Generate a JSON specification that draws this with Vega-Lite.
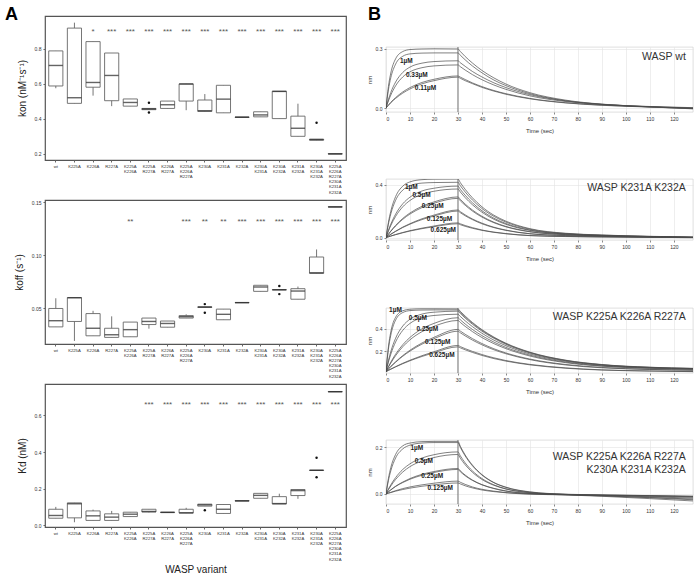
{
"$schema":"https://vega.github.io/schema/vega-lite/v6.json",
"background":"white",
"padding":{"left":4,"top":5,"right":0,"bottom":0},
"config":{"font":"Liberation Sans","view":{"stroke":null},"axis":{"labelFont":"Liberation Sans","titleFont":"Liberation Sans","titleFontWeight":"normal"}},
"datasets":{
"kon":[
{"variant":"wt","lo":0.574,"q1":0.587,"med":0.704,"q3":0.787,"hi":0.787},
{"variant":"K225A","lo":0.488,"q1":0.488,"med":0.52,"q3":0.917,"hi":0.948},
{"variant":"K226A","lo":0.532,"q1":0.58,"med":0.607,"q3":0.84,"hi":0.84,"sig":"*"},
{"variant":"R227A","lo":0.472,"q1":0.503,"med":0.647,"q3":0.775,"hi":0.775,"sig":"***"},
{"variant":"K225A K226A","lo":0.472,"q1":0.472,"med":0.493,"q3":0.513,"hi":0.513,"sig":"***"},
{"variant":"K225A R227A","lo":0.452,"q1":0.452,"med":0.456,"q3":0.459,"hi":0.459,"sig":"***"},
{"variant":"K226A R227A","lo":0.459,"q1":0.459,"med":0.48,"q3":0.501,"hi":0.501,"sig":"***"},
{"variant":"K225A K226A R227A","lo":0.449,"q1":0.501,"med":0.598,"q3":0.599,"hi":0.599,"sig":"***"},
{"variant":"K230A","lo":0.442,"q1":0.442,"med":0.446,"q3":0.507,"hi":0.541,"sig":"***"},
{"variant":"K231A","lo":0.434,"q1":0.434,"med":0.512,"q3":0.591,"hi":0.591,"sig":"***"},
{"variant":"K232A","lo":0.408,"q1":0.408,"med":0.409,"q3":0.41,"hi":0.41,"sig":"***"},
{"variant":"K230A K231A","lo":0.411,"q1":0.411,"med":0.422,"q3":0.44,"hi":0.44,"sig":"***"},
{"variant":"K230A K232A","lo":0.401,"q1":0.401,"med":0.556,"q3":0.557,"hi":0.557,"sig":"***"},
{"variant":"K231A K232A","lo":0.3,"q1":0.3,"med":0.346,"q3":0.415,"hi":0.486,"sig":"***"},
{"variant":"K230A K231A K232A","lo":0.278,"q1":0.278,"med":0.281,"q3":0.284,"hi":0.284,"sig":"***"},
{"variant":"K225A K226A R227A K230A K231A K232A","lo":0.199,"q1":0.199,"med":0.2,"q3":0.201,"hi":0.201,"sig":"***"}
],
"kon_out":[
{"variant":"K225A R227A","v":0.491},{"variant":"K225A R227A","v":0.436},{"variant":"K230A K231A K232A","v":0.377}
],
"koff":[
{"variant":"wt","lo":0.0327,"q1":0.0327,"med":0.0385,"q3":0.05,"hi":0.0596},
{"variant":"K225A","lo":0.0195,"q1":0.0378,"med":0.06,"q3":0.0603,"hi":0.0603},
{"variant":"K226A","lo":0.0243,"q1":0.0243,"med":0.0314,"q3":0.0452,"hi":0.0478},
{"variant":"R227A","lo":0.0228,"q1":0.0228,"med":0.0253,"q3":0.0314,"hi":0.0426},
{"variant":"K225A K226A","lo":0.0234,"q1":0.0234,"med":0.0301,"q3":0.0372,"hi":0.0372,"sig":"**"},
{"variant":"K225A R227A","lo":0.031,"q1":0.0349,"med":0.0378,"q3":0.041,"hi":0.041},
{"variant":"K226A R227A","lo":0.0324,"q1":0.0324,"med":0.0359,"q3":0.0382,"hi":0.0382},
{"variant":"K225A K226A R227A","lo":0.041,"q1":0.041,"med":0.0423,"q3":0.0433,"hi":0.0445,"sig":"***"},
{"variant":"K230A","lo":0.0511,"q1":0.0511,"med":0.0513,"q3":0.0515,"hi":0.0515,"sig":"**"},
{"variant":"K231A","lo":0.0394,"q1":0.0394,"med":0.0445,"q3":0.0494,"hi":0.0494,"sig":"**"},
{"variant":"K232A","lo":0.0554,"q1":0.0554,"med":0.0555,"q3":0.0556,"hi":0.0556,"sig":"***"},
{"variant":"K230A K231A","lo":0.0661,"q1":0.0661,"med":0.0702,"q3":0.0718,"hi":0.0718,"sig":"***"},
{"variant":"K230A K232A","lo":0.0675,"q1":0.0675,"med":0.0676,"q3":0.0677,"hi":0.0677,"sig":"***"},
{"variant":"K231A K232A","lo":0.0587,"q1":0.0587,"med":0.0664,"q3":0.0686,"hi":0.0706,"sig":"***"},
{"variant":"K230A K231A K232A","lo":0.083,"q1":0.083,"med":0.0836,"q3":0.0984,"hi":0.1055,"sig":"***"},
{"variant":"K225A K226A R227A K230A K231A K232A","lo":0.1454,"q1":0.1454,"med":0.1455,"q3":0.1456,"hi":0.1456,"sig":"***"}
],
"koff_out":[
{"variant":"K230A","v":0.0541},{"variant":"K230A","v":0.0459},{"variant":"K230A K232A","v":0.0712},{"variant":"K230A K232A","v":0.0635}
],
"kd":[
{"variant":"wt","lo":0.038,"q1":0.038,"med":0.053,"q3":0.087,"hi":0.1},
{"variant":"K225A","lo":0.016,"q1":0.04,"med":0.117,"q3":0.122,"hi":0.122},
{"variant":"K226A","lo":0.026,"q1":0.026,"med":0.051,"q3":0.078,"hi":0.085},
{"variant":"R227A","lo":0.026,"q1":0.026,"med":0.044,"q3":0.062,"hi":0.078},
{"variant":"K225A K226A","lo":0.047,"q1":0.047,"med":0.06,"q3":0.071,"hi":0.071},
{"variant":"K225A R227A","lo":0.07,"q1":0.072,"med":0.075,"q3":0.087,"hi":0.087,"sig":"***"},
{"variant":"K226A R227A","lo":0.069,"q1":0.069,"med":0.07,"q3":0.071,"hi":0.071,"sig":"***"},
{"variant":"K225A K226A R227A","lo":0.066,"q1":0.066,"med":0.068,"q3":0.087,"hi":0.095,"sig":"***"},
{"variant":"K230A","lo":0.104,"q1":0.104,"med":0.111,"q3":0.115,"hi":0.115,"sig":"***"},
{"variant":"K231A","lo":0.064,"q1":0.064,"med":0.087,"q3":0.113,"hi":0.113,"sig":"***"},
{"variant":"K232A","lo":0.132,"q1":0.132,"med":0.133,"q3":0.134,"hi":0.134,"sig":"***"},
{"variant":"K230A K231A","lo":0.147,"q1":0.147,"med":0.163,"q3":0.174,"hi":0.174,"sig":"***"},
{"variant":"K230A K232A","lo":0.116,"q1":0.116,"med":0.118,"q3":0.156,"hi":0.172,"sig":"***"},
{"variant":"K231A K232A","lo":0.144,"q1":0.162,"med":0.189,"q3":0.195,"hi":0.195,"sig":"***"},
{"variant":"K230A K231A K232A","lo":0.299,"q1":0.299,"med":0.3,"q3":0.301,"hi":0.301,"sig":"***"},
{"variant":"K225A K226A R227A K230A K231A K232A","lo":0.729,"q1":0.729,"med":0.73,"q3":0.731,"hi":0.731,"sig":"***"}
],
"kd_out":[
{"variant":"K230A","v":0.082},{"variant":"K230A K231A K232A","v":0.369},{"variant":"K230A K231A K232A","v":0.262}
],
"conc":[
{"p":1,"t":5.8,"v":0.24,"lab":"1µM"},{"p":1,"t":8.3,"v":0.17,"lab":"0.33µM"},{"p":1,"t":12,"v":0.1,"lab":"0.11µM"},
{"p":2,"t":7.9,"v":0.385,"lab":"1µM"},{"p":2,"t":11,"v":0.32,"lab":"0.5µM"},{"p":2,"t":14.9,"v":0.243,"lab":"0.25µM"},{"p":2,"t":17,"v":0.141,"lab":"0.125µM"},{"p":2,"t":18.6,"v":0.056,"lab":"0.625µM"},
{"p":3,"t":1.3,"v":0.564,"lab":"1µM"},{"p":3,"t":9.5,"v":0.49,"lab":"0.5µM"},{"p":3,"t":12.7,"v":0.4,"lab":"0.25µM"},{"p":3,"t":16.3,"v":0.284,"lab":"0.125µM"},{"p":3,"t":18,"v":0.17,"lab":"0.625µM"},
{"p":4,"t":10.2,"v":0.196,"lab":"1µM"},{"p":4,"t":12,"v":0.139,"lab":"0.5µM"},{"p":4,"t":14.7,"v":0.077,"lab":"0.25µM"},{"p":4,"t":17.3,"v":0.024,"lab":"0.125µM"}
],
"sens":[
{"p":1,"s":"a","t":0,"v":0},{"p":1,"s":"a","t":1,"v":0.109},{"p":1,"s":"a","t":2,"v":0.178},{"p":1,"s":"a","t":4,"v":0.25},{"p":1,"s":"a","t":7,"v":0.287},{"p":1,"s":"a","t":10,"v":0.297},{"p":1,"s":"a","t":15,"v":0.3},{"p":1,"s":"a","t":20,"v":0.301},{"p":1,"s":"a","t":30,"v":0.3},{"p":1,"s":"a","t":31,"v":0.287},{"p":1,"s":"a","t":33,"v":0.262},{"p":1,"s":"a","t":36,"v":0.229},{"p":1,"s":"a","t":40,"v":0.191},{"p":1,"s":"a","t":45,"v":0.153},{"p":1,"s":"a","t":50,"v":0.122},{"p":1,"s":"a","t":60,"v":0.078},{"p":1,"s":"a","t":75,"v":0.04},{"p":1,"s":"a","t":90,"v":0.02},{"p":1,"s":"a","t":110,"v":0.006},{"p":1,"s":"a","t":128,"v":-0.002},
{"p":1,"s":"b","t":0,"v":0},{"p":1,"s":"b","t":1,"v":0.092},{"p":1,"s":"b","t":2,"v":0.154},{"p":1,"s":"b","t":4,"v":0.223},{"p":1,"s":"b","t":7,"v":0.263},{"p":1,"s":"b","t":10,"v":0.275},{"p":1,"s":"b","t":15,"v":0.279},{"p":1,"s":"b","t":20,"v":0.28},{"p":1,"s":"b","t":30,"v":0.28},{"p":1,"s":"b","t":31,"v":0.268},{"p":1,"s":"b","t":33,"v":0.245},{"p":1,"s":"b","t":36,"v":0.214},{"p":1,"s":"b","t":40,"v":0.179},{"p":1,"s":"b","t":45,"v":0.142},{"p":1,"s":"b","t":50,"v":0.114},{"p":1,"s":"b","t":60,"v":0.073},{"p":1,"s":"b","t":75,"v":0.037},{"p":1,"s":"b","t":90,"v":0.019},{"p":1,"s":"b","t":110,"v":0.007},{"p":1,"s":"b","t":128,"v":-0.001},
{"p":1,"s":"c","t":0,"v":0},{"p":1,"s":"c","t":1,"v":0.043},{"p":1,"s":"c","t":2,"v":0.079},{"p":1,"s":"c","t":4,"v":0.132},{"p":1,"s":"c","t":7,"v":0.181},{"p":1,"s":"c","t":10,"v":0.208},{"p":1,"s":"c","t":15,"v":0.228},{"p":1,"s":"c","t":20,"v":0.236},{"p":1,"s":"c","t":30,"v":0.24},{"p":1,"s":"c","t":31,"v":0.23},{"p":1,"s":"c","t":33,"v":0.212},{"p":1,"s":"c","t":36,"v":0.186},{"p":1,"s":"c","t":40,"v":0.158},{"p":1,"s":"c","t":45,"v":0.128},{"p":1,"s":"c","t":50,"v":0.104},{"p":1,"s":"c","t":60,"v":0.068},{"p":1,"s":"c","t":75,"v":0.036},{"p":1,"s":"c","t":90,"v":0.019},{"p":1,"s":"c","t":110,"v":0.008},{"p":1,"s":"c","t":128,"v":0.002},
{"p":1,"s":"d","t":0,"v":0},{"p":1,"s":"d","t":1,"v":0.036},{"p":1,"s":"d","t":2,"v":0.066},{"p":1,"s":"d","t":4,"v":0.113},{"p":1,"s":"d","t":7,"v":0.158},{"p":1,"s":"d","t":10,"v":0.184},{"p":1,"s":"d","t":15,"v":0.205},{"p":1,"s":"d","t":20,"v":0.214},{"p":1,"s":"d","t":30,"v":0.219},{"p":1,"s":"d","t":31,"v":0.21},{"p":1,"s":"d","t":33,"v":0.193},{"p":1,"s":"d","t":36,"v":0.17},{"p":1,"s":"d","t":40,"v":0.144},{"p":1,"s":"d","t":45,"v":0.117},{"p":1,"s":"d","t":50,"v":0.095},{"p":1,"s":"d","t":60,"v":0.062},{"p":1,"s":"d","t":75,"v":0.033},{"p":1,"s":"d","t":90,"v":0.018},{"p":1,"s":"d","t":110,"v":0.006},{"p":1,"s":"d","t":128,"v":-0.004},
{"p":1,"s":"e","t":0,"v":0},{"p":1,"s":"e","t":1,"v":0.015},{"p":1,"s":"e","t":2,"v":0.029},{"p":1,"s":"e","t":4,"v":0.053},{"p":1,"s":"e","t":7,"v":0.082},{"p":1,"s":"e","t":10,"v":0.104},{"p":1,"s":"e","t":15,"v":0.13},{"p":1,"s":"e","t":20,"v":0.146},{"p":1,"s":"e","t":30,"v":0.163},{"p":1,"s":"e","t":31,"v":0.157},{"p":1,"s":"e","t":33,"v":0.145},{"p":1,"s":"e","t":36,"v":0.128},{"p":1,"s":"e","t":40,"v":0.109},{"p":1,"s":"e","t":45,"v":0.089},{"p":1,"s":"e","t":50,"v":0.073},{"p":1,"s":"e","t":60,"v":0.049},{"p":1,"s":"e","t":75,"v":0.027},{"p":1,"s":"e","t":90,"v":0.015},{"p":1,"s":"e","t":110,"v":0.006},{"p":1,"s":"e","t":128,"v":0.001},
{"p":1,"s":"f","t":0,"v":0},{"p":1,"s":"f","t":1,"v":0.014},{"p":1,"s":"f","t":2,"v":0.027},{"p":1,"s":"f","t":4,"v":0.049},{"p":1,"s":"f","t":7,"v":0.076},{"p":1,"s":"f","t":10,"v":0.097},{"p":1,"s":"f","t":15,"v":0.123},{"p":1,"s":"f","t":20,"v":0.139},{"p":1,"s":"f","t":30,"v":0.157},{"p":1,"s":"f","t":31,"v":0.151},{"p":1,"s":"f","t":33,"v":0.139},{"p":1,"s":"f","t":36,"v":0.124},{"p":1,"s":"f","t":40,"v":0.105},{"p":1,"s":"f","t":45,"v":0.086},{"p":1,"s":"f","t":50,"v":0.07},{"p":1,"s":"f","t":60,"v":0.047},{"p":1,"s":"f","t":75,"v":0.026},{"p":1,"s":"f","t":90,"v":0.014},{"p":1,"s":"f","t":110,"v":0.005},{"p":1,"s":"f","t":128,"v":-0.003},
{"p":2,"s":"a","t":0,"v":0},{"p":2,"s":"a","t":1,"v":0.115},{"p":2,"s":"a","t":2,"v":0.201},{"p":2,"s":"a","t":4,"v":0.311},{"p":2,"s":"a","t":7,"v":0.391},{"p":2,"s":"a","t":10,"v":0.423},{"p":2,"s":"a","t":15,"v":0.44},{"p":2,"s":"a","t":20,"v":0.444},{"p":2,"s":"a","t":30,"v":0.445},{"p":2,"s":"a","t":31,"v":0.417},{"p":2,"s":"a","t":33,"v":0.367},{"p":2,"s":"a","t":36,"v":0.303},{"p":2,"s":"a","t":40,"v":0.234},{"p":2,"s":"a","t":45,"v":0.17},{"p":2,"s":"a","t":50,"v":0.125},{"p":2,"s":"a","t":60,"v":0.068},{"p":2,"s":"a","t":75,"v":0.033},{"p":2,"s":"a","t":90,"v":0.02},{"p":2,"s":"a","t":110,"v":0.01},{"p":2,"s":"a","t":128,"v":0.004},
{"p":2,"s":"b","t":0,"v":0},{"p":2,"s":"b","t":1,"v":0.102},{"p":2,"s":"b","t":2,"v":0.18},{"p":2,"s":"b","t":4,"v":0.283},{"p":2,"s":"b","t":7,"v":0.361},{"p":2,"s":"b","t":10,"v":0.394},{"p":2,"s":"b","t":15,"v":0.414},{"p":2,"s":"b","t":20,"v":0.418},{"p":2,"s":"b","t":30,"v":0.42},{"p":2,"s":"b","t":31,"v":0.394},{"p":2,"s":"b","t":33,"v":0.347},{"p":2,"s":"b","t":36,"v":0.286},{"p":2,"s":"b","t":40,"v":0.221},{"p":2,"s":"b","t":45,"v":0.161},{"p":2,"s":"b","t":50,"v":0.118},{"p":2,"s":"b","t":60,"v":0.064},{"p":2,"s":"b","t":75,"v":0.031},{"p":2,"s":"b","t":90,"v":0.019},{"p":2,"s":"b","t":110,"v":0.009},{"p":2,"s":"b","t":128,"v":0.003},
{"p":2,"s":"c","t":0,"v":0},{"p":2,"s":"c","t":1,"v":0.055},{"p":2,"s":"c","t":2,"v":0.102},{"p":2,"s":"c","t":4,"v":0.178},{"p":2,"s":"c","t":7,"v":0.257},{"p":2,"s":"c","t":10,"v":0.307},{"p":2,"s":"c","t":15,"v":0.354},{"p":2,"s":"c","t":20,"v":0.375},{"p":2,"s":"c","t":30,"v":0.391},{"p":2,"s":"c","t":31,"v":0.366},{"p":2,"s":"c","t":33,"v":0.322},{"p":2,"s":"c","t":36,"v":0.265},{"p":2,"s":"c","t":40,"v":0.204},{"p":2,"s":"c","t":45,"v":0.147},{"p":2,"s":"c","t":50,"v":0.107},{"p":2,"s":"c","t":60,"v":0.058},{"p":2,"s":"c","t":75,"v":0.028},{"p":2,"s":"c","t":90,"v":0.017},{"p":2,"s":"c","t":110,"v":0.008},{"p":2,"s":"c","t":128,"v":0.003},
{"p":2,"s":"d","t":0,"v":0},{"p":2,"s":"d","t":1,"v":0.049},{"p":2,"s":"d","t":2,"v":0.092},{"p":2,"s":"d","t":4,"v":0.161},{"p":2,"s":"d","t":7,"v":0.234},{"p":2,"s":"d","t":10,"v":0.282},{"p":2,"s":"d","t":15,"v":0.329},{"p":2,"s":"d","t":20,"v":0.352},{"p":2,"s":"d","t":30,"v":0.369},{"p":2,"s":"d","t":31,"v":0.346},{"p":2,"s":"d","t":33,"v":0.304},{"p":2,"s":"d","t":36,"v":0.25},{"p":2,"s":"d","t":40,"v":0.193},{"p":2,"s":"d","t":45,"v":0.139},{"p":2,"s":"d","t":50,"v":0.101},{"p":2,"s":"d","t":60,"v":0.055},{"p":2,"s":"d","t":75,"v":0.027},{"p":2,"s":"d","t":90,"v":0.016},{"p":2,"s":"d","t":110,"v":0.008},{"p":2,"s":"d","t":128,"v":0.002},
{"p":2,"s":"e","t":0,"v":0},{"p":2,"s":"e","t":1,"v":0.026},{"p":2,"s":"e","t":2,"v":0.05},{"p":2,"s":"e","t":4,"v":0.093},{"p":2,"s":"e","t":7,"v":0.146},{"p":2,"s":"e","t":10,"v":0.187},{"p":2,"s":"e","t":15,"v":0.238},{"p":2,"s":"e","t":20,"v":0.271},{"p":2,"s":"e","t":30,"v":0.309},{"p":2,"s":"e","t":31,"v":0.29},{"p":2,"s":"e","t":33,"v":0.255},{"p":2,"s":"e","t":36,"v":0.21},{"p":2,"s":"e","t":40,"v":0.162},{"p":2,"s":"e","t":45,"v":0.117},{"p":2,"s":"e","t":50,"v":0.085},{"p":2,"s":"e","t":60,"v":0.046},{"p":2,"s":"e","t":75,"v":0.023},{"p":2,"s":"e","t":90,"v":0.014},{"p":2,"s":"e","t":110,"v":0.007},{"p":2,"s":"e","t":128,"v":0.002},
{"p":2,"s":"f","t":0,"v":0},{"p":2,"s":"f","t":1,"v":0.025},{"p":2,"s":"f","t":2,"v":0.048},{"p":2,"s":"f","t":4,"v":0.088},{"p":2,"s":"f","t":7,"v":0.139},{"p":2,"s":"f","t":10,"v":0.179},{"p":2,"s":"f","t":15,"v":0.228},{"p":2,"s":"f","t":20,"v":0.261},{"p":2,"s":"f","t":30,"v":0.298},{"p":2,"s":"f","t":31,"v":0.279},{"p":2,"s":"f","t":33,"v":0.246},{"p":2,"s":"f","t":36,"v":0.202},{"p":2,"s":"f","t":40,"v":0.156},{"p":2,"s":"f","t":45,"v":0.113},{"p":2,"s":"f","t":50,"v":0.082},{"p":2,"s":"f","t":60,"v":0.044},{"p":2,"s":"f","t":75,"v":0.022},{"p":2,"s":"f","t":90,"v":0.013},{"p":2,"s":"f","t":110,"v":0.006},{"p":2,"s":"f","t":128,"v":0.002},
{"p":2,"s":"g","t":0,"v":0},{"p":2,"s":"g","t":1,"v":0.013},{"p":2,"s":"g","t":2,"v":0.026},{"p":2,"s":"g","t":4,"v":0.049},{"p":2,"s":"g","t":7,"v":0.08},{"p":2,"s":"g","t":10,"v":0.106},{"p":2,"s":"g","t":15,"v":0.143},{"p":2,"s":"g","t":20,"v":0.171},{"p":2,"s":"g","t":30,"v":0.21},{"p":2,"s":"g","t":31,"v":0.197},{"p":2,"s":"g","t":33,"v":0.173},{"p":2,"s":"g","t":36,"v":0.142},{"p":2,"s":"g","t":40,"v":0.11},{"p":2,"s":"g","t":45,"v":0.079},{"p":2,"s":"g","t":50,"v":0.057},{"p":2,"s":"g","t":60,"v":0.03},{"p":2,"s":"g","t":75,"v":0.016},{"p":2,"s":"g","t":90,"v":0.01},{"p":2,"s":"g","t":110,"v":0.005},{"p":2,"s":"g","t":128,"v":0.001},
{"p":2,"s":"h","t":0,"v":0},{"p":2,"s":"h","t":1,"v":0.013},{"p":2,"s":"h","t":2,"v":0.025},{"p":2,"s":"h","t":4,"v":0.047},{"p":2,"s":"h","t":7,"v":0.077},{"p":2,"s":"h","t":10,"v":0.102},{"p":2,"s":"h","t":15,"v":0.137},{"p":2,"s":"h","t":20,"v":0.164},{"p":2,"s":"h","t":30,"v":0.202},{"p":2,"s":"h","t":31,"v":0.189},{"p":2,"s":"h","t":33,"v":0.166},{"p":2,"s":"h","t":36,"v":0.137},{"p":2,"s":"h","t":40,"v":0.105},{"p":2,"s":"h","t":45,"v":0.076},{"p":2,"s":"h","t":50,"v":0.055},{"p":2,"s":"h","t":60,"v":0.029},{"p":2,"s":"h","t":75,"v":0.015},{"p":2,"s":"h","t":90,"v":0.009},{"p":2,"s":"h","t":110,"v":0.004},{"p":2,"s":"h","t":128,"v":0.001},
{"p":2,"s":"i","t":0,"v":0},{"p":2,"s":"i","t":1,"v":0.006},{"p":2,"s":"i","t":2,"v":0.012},{"p":2,"s":"i","t":4,"v":0.024},{"p":2,"s":"i","t":7,"v":0.039},{"p":2,"s":"i","t":10,"v":0.053},{"p":2,"s":"i","t":15,"v":0.072},{"p":2,"s":"i","t":20,"v":0.088},{"p":2,"s":"i","t":30,"v":0.112},{"p":2,"s":"i","t":31,"v":0.105},{"p":2,"s":"i","t":33,"v":0.092},{"p":2,"s":"i","t":36,"v":0.076},{"p":2,"s":"i","t":40,"v":0.058},{"p":2,"s":"i","t":45,"v":0.042},{"p":2,"s":"i","t":50,"v":0.031},{"p":2,"s":"i","t":60,"v":0.016},{"p":2,"s":"i","t":75,"v":0.009},{"p":2,"s":"i","t":90,"v":0.005},{"p":2,"s":"i","t":110,"v":0.002},{"p":2,"s":"i","t":128,"v":0},
{"p":2,"s":"j","t":0,"v":0},{"p":2,"s":"j","t":1,"v":0.006},{"p":2,"s":"j","t":2,"v":0.012},{"p":2,"s":"j","t":4,"v":0.022},{"p":2,"s":"j","t":7,"v":0.037},{"p":2,"s":"j","t":10,"v":0.05},{"p":2,"s":"j","t":15,"v":0.068},{"p":2,"s":"j","t":20,"v":0.083},{"p":2,"s":"j","t":30,"v":0.105},{"p":2,"s":"j","t":31,"v":0.098},{"p":2,"s":"j","t":33,"v":0.086},{"p":2,"s":"j","t":36,"v":0.071},{"p":2,"s":"j","t":40,"v":0.055},{"p":2,"s":"j","t":45,"v":0.04},{"p":2,"s":"j","t":50,"v":0.029},{"p":2,"s":"j","t":60,"v":0.015},{"p":2,"s":"j","t":75,"v":0.008},{"p":2,"s":"j","t":90,"v":0.005},{"p":2,"s":"j","t":110,"v":0.002},{"p":2,"s":"j","t":128,"v":0},
{"p":3,"s":"a","t":0,"v":0.02},{"p":3,"s":"a","t":1,"v":0.238},{"p":3,"s":"a","t":2,"v":0.371},{"p":3,"s":"a","t":4,"v":0.5},{"p":3,"s":"a","t":7,"v":0.558},{"p":3,"s":"a","t":10,"v":0.571},{"p":3,"s":"a","t":15,"v":0.575},{"p":3,"s":"a","t":20,"v":0.575},{"p":3,"s":"a","t":30,"v":0.574},{"p":3,"s":"a","t":31,"v":0.552},{"p":3,"s":"a","t":33,"v":0.511},{"p":3,"s":"a","t":36,"v":0.455},{"p":3,"s":"a","t":40,"v":0.391},{"p":3,"s":"a","t":45,"v":0.325},{"p":3,"s":"a","t":50,"v":0.271},{"p":3,"s":"a","t":60,"v":0.192},{"p":3,"s":"a","t":75,"v":0.121},{"p":3,"s":"a","t":90,"v":0.083},{"p":3,"s":"a","t":110,"v":0.059},{"p":3,"s":"a","t":128,"v":0.049},
{"p":3,"s":"b","t":0,"v":0.02},{"p":3,"s":"b","t":1,"v":0.217},{"p":3,"s":"b","t":2,"v":0.342},{"p":3,"s":"b","t":4,"v":0.475},{"p":3,"s":"b","t":7,"v":0.542},{"p":3,"s":"b","t":10,"v":0.559},{"p":3,"s":"b","t":15,"v":0.564},{"p":3,"s":"b","t":20,"v":0.565},{"p":3,"s":"b","t":30,"v":0.565},{"p":3,"s":"b","t":31,"v":0.544},{"p":3,"s":"b","t":33,"v":0.503},{"p":3,"s":"b","t":36,"v":0.448},{"p":3,"s":"b","t":40,"v":0.385},{"p":3,"s":"b","t":45,"v":0.32},{"p":3,"s":"b","t":50,"v":0.267},{"p":3,"s":"b","t":60,"v":0.189},{"p":3,"s":"b","t":75,"v":0.119},{"p":3,"s":"b","t":90,"v":0.081},{"p":3,"s":"b","t":110,"v":0.058},{"p":3,"s":"b","t":128,"v":0.048},
{"p":3,"s":"c","t":0,"v":0.02},{"p":3,"s":"c","t":1,"v":0.117},{"p":3,"s":"c","t":2,"v":0.197},{"p":3,"s":"c","t":4,"v":0.315},{"p":3,"s":"c","t":7,"v":0.423},{"p":3,"s":"c","t":10,"v":0.483},{"p":3,"s":"c","t":15,"v":0.528},{"p":3,"s":"c","t":20,"v":0.545},{"p":3,"s":"c","t":30,"v":0.554},{"p":3,"s":"c","t":31,"v":0.533},{"p":3,"s":"c","t":33,"v":0.493},{"p":3,"s":"c","t":36,"v":0.439},{"p":3,"s":"c","t":40,"v":0.377},{"p":3,"s":"c","t":45,"v":0.314},{"p":3,"s":"c","t":50,"v":0.261},{"p":3,"s":"c","t":60,"v":0.185},{"p":3,"s":"c","t":75,"v":0.116},{"p":3,"s":"c","t":90,"v":0.08},{"p":3,"s":"c","t":110,"v":0.057},{"p":3,"s":"c","t":128,"v":0.047},
{"p":3,"s":"d","t":0,"v":0.02},{"p":3,"s":"d","t":1,"v":0.104},{"p":3,"s":"d","t":2,"v":0.174},{"p":3,"s":"d","t":4,"v":0.282},{"p":3,"s":"d","t":7,"v":0.385},{"p":3,"s":"d","t":10,"v":0.446},{"p":3,"s":"d","t":15,"v":0.496},{"p":3,"s":"d","t":20,"v":0.516},{"p":3,"s":"d","t":30,"v":0.527},{"p":3,"s":"d","t":31,"v":0.507},{"p":3,"s":"d","t":33,"v":0.469},{"p":3,"s":"d","t":36,"v":0.418},{"p":3,"s":"d","t":40,"v":0.359},{"p":3,"s":"d","t":45,"v":0.298},{"p":3,"s":"d","t":50,"v":0.249},{"p":3,"s":"d","t":60,"v":0.176},{"p":3,"s":"d","t":75,"v":0.111},{"p":3,"s":"d","t":90,"v":0.076},{"p":3,"s":"d","t":110,"v":0.054},{"p":3,"s":"d","t":128,"v":0.045},
{"p":3,"s":"e","t":0,"v":0.02},{"p":3,"s":"e","t":1,"v":0.064},{"p":3,"s":"e","t":2,"v":0.104},{"p":3,"s":"e","t":4,"v":0.174},{"p":3,"s":"e","t":7,"v":0.258},{"p":3,"s":"e","t":10,"v":0.322},{"p":3,"s":"e","t":15,"v":0.398},{"p":3,"s":"e","t":20,"v":0.446},{"p":3,"s":"e","t":30,"v":0.496},{"p":3,"s":"e","t":31,"v":0.477},{"p":3,"s":"e","t":33,"v":0.441},{"p":3,"s":"e","t":36,"v":0.393},{"p":3,"s":"e","t":40,"v":0.338},{"p":3,"s":"e","t":45,"v":0.281},{"p":3,"s":"e","t":50,"v":0.234},{"p":3,"s":"e","t":60,"v":0.166},{"p":3,"s":"e","t":75,"v":0.104},{"p":3,"s":"e","t":90,"v":0.071},{"p":3,"s":"e","t":110,"v":0.051},{"p":3,"s":"e","t":128,"v":0.042},
{"p":3,"s":"f","t":0,"v":0.02},{"p":3,"s":"f","t":1,"v":0.06},{"p":3,"s":"f","t":2,"v":0.096},{"p":3,"s":"f","t":4,"v":0.161},{"p":3,"s":"f","t":7,"v":0.24},{"p":3,"s":"f","t":10,"v":0.301},{"p":3,"s":"f","t":15,"v":0.373},{"p":3,"s":"f","t":20,"v":0.42},{"p":3,"s":"f","t":30,"v":0.472},{"p":3,"s":"f","t":31,"v":0.454},{"p":3,"s":"f","t":33,"v":0.42},{"p":3,"s":"f","t":36,"v":0.374},{"p":3,"s":"f","t":40,"v":0.321},{"p":3,"s":"f","t":45,"v":0.267},{"p":3,"s":"f","t":50,"v":0.223},{"p":3,"s":"f","t":60,"v":0.158},{"p":3,"s":"f","t":75,"v":0.099},{"p":3,"s":"f","t":90,"v":0.068},{"p":3,"s":"f","t":110,"v":0.049},{"p":3,"s":"f","t":128,"v":0.04},
{"p":3,"s":"g","t":0,"v":0.02},{"p":3,"s":"g","t":1,"v":0.044},{"p":3,"s":"g","t":2,"v":0.066},{"p":3,"s":"g","t":4,"v":0.107},{"p":3,"s":"g","t":7,"v":0.162},{"p":3,"s":"g","t":10,"v":0.209},{"p":3,"s":"g","t":15,"v":0.273},{"p":3,"s":"g","t":20,"v":0.323},{"p":3,"s":"g","t":30,"v":0.393},{"p":3,"s":"g","t":31,"v":0.378},{"p":3,"s":"g","t":33,"v":0.35},{"p":3,"s":"g","t":36,"v":0.312},{"p":3,"s":"g","t":40,"v":0.268},{"p":3,"s":"g","t":45,"v":0.222},{"p":3,"s":"g","t":50,"v":0.185},{"p":3,"s":"g","t":60,"v":0.131},{"p":3,"s":"g","t":75,"v":0.083},{"p":3,"s":"g","t":90,"v":0.057},{"p":3,"s":"g","t":110,"v":0.04},{"p":3,"s":"g","t":128,"v":0.033},
{"p":3,"s":"h","t":0,"v":0.02},{"p":3,"s":"h","t":1,"v":0.043},{"p":3,"s":"h","t":2,"v":0.064},{"p":3,"s":"h","t":4,"v":0.103},{"p":3,"s":"h","t":7,"v":0.156},{"p":3,"s":"h","t":10,"v":0.201},{"p":3,"s":"h","t":15,"v":0.263},{"p":3,"s":"h","t":20,"v":0.311},{"p":3,"s":"h","t":30,"v":0.377},{"p":3,"s":"h","t":31,"v":0.363},{"p":3,"s":"h","t":33,"v":0.336},{"p":3,"s":"h","t":36,"v":0.299},{"p":3,"s":"h","t":40,"v":0.257},{"p":3,"s":"h","t":45,"v":0.213},{"p":3,"s":"h","t":50,"v":0.178},{"p":3,"s":"h","t":60,"v":0.126},{"p":3,"s":"h","t":75,"v":0.079},{"p":3,"s":"h","t":90,"v":0.054},{"p":3,"s":"h","t":110,"v":0.039},{"p":3,"s":"h","t":128,"v":0.032},
{"p":3,"s":"i","t":0,"v":0.02},{"p":3,"s":"i","t":1,"v":0.032},{"p":3,"s":"i","t":2,"v":0.043},{"p":3,"s":"i","t":4,"v":0.064},{"p":3,"s":"i","t":7,"v":0.094},{"p":3,"s":"i","t":10,"v":0.121},{"p":3,"s":"i","t":15,"v":0.161},{"p":3,"s":"i","t":20,"v":0.196},{"p":3,"s":"i","t":30,"v":0.251},{"p":3,"s":"i","t":31,"v":0.241},{"p":3,"s":"i","t":33,"v":0.223},{"p":3,"s":"i","t":36,"v":0.199},{"p":3,"s":"i","t":40,"v":0.171},{"p":3,"s":"i","t":45,"v":0.142},{"p":3,"s":"i","t":50,"v":0.118},{"p":3,"s":"i","t":60,"v":0.084},{"p":3,"s":"i","t":75,"v":0.053},{"p":3,"s":"i","t":90,"v":0.036},{"p":3,"s":"i","t":110,"v":0.026},{"p":3,"s":"i","t":128,"v":0.021},
{"p":3,"s":"j","t":0,"v":0.02},{"p":3,"s":"j","t":1,"v":0.031},{"p":3,"s":"j","t":2,"v":0.041},{"p":3,"s":"j","t":4,"v":0.062},{"p":3,"s":"j","t":7,"v":0.09},{"p":3,"s":"j","t":10,"v":0.116},{"p":3,"s":"j","t":15,"v":0.154},{"p":3,"s":"j","t":20,"v":0.187},{"p":3,"s":"j","t":30,"v":0.239},{"p":3,"s":"j","t":31,"v":0.23},{"p":3,"s":"j","t":33,"v":0.213},{"p":3,"s":"j","t":36,"v":0.19},{"p":3,"s":"j","t":40,"v":0.163},{"p":3,"s":"j","t":45,"v":0.135},{"p":3,"s":"j","t":50,"v":0.113},{"p":3,"s":"j","t":60,"v":0.08},{"p":3,"s":"j","t":75,"v":0.05},{"p":3,"s":"j","t":90,"v":0.034},{"p":3,"s":"j","t":110,"v":0.025},{"p":3,"s":"j","t":128,"v":0.02},
{"p":4,"s":"a","t":0,"v":0},{"p":4,"s":"a","t":1,"v":0.066},{"p":4,"s":"a","t":2,"v":0.113},{"p":4,"s":"a","t":4,"v":0.169},{"p":4,"s":"a","t":7,"v":0.206},{"p":4,"s":"a","t":10,"v":0.218},{"p":4,"s":"a","t":15,"v":0.224},{"p":4,"s":"a","t":20,"v":0.225},{"p":4,"s":"a","t":30,"v":0.225},{"p":4,"s":"a","t":31,"v":0.204},{"p":4,"s":"a","t":33,"v":0.167},{"p":4,"s":"a","t":36,"v":0.124},{"p":4,"s":"a","t":40,"v":0.083},{"p":4,"s":"a","t":45,"v":0.049},{"p":4,"s":"a","t":50,"v":0.029},{"p":4,"s":"a","t":60,"v":0.009},{"p":4,"s":"a","t":75,"v":-0.001},{"p":4,"s":"a","t":90,"v":-0.004},{"p":4,"s":"a","t":110,"v":-0.007},{"p":4,"s":"a","t":128,"v":-0.01},
{"p":4,"s":"b","t":0,"v":0},{"p":4,"s":"b","t":1,"v":0.057},{"p":4,"s":"b","t":2,"v":0.099},{"p":4,"s":"b","t":4,"v":0.154},{"p":4,"s":"b","t":7,"v":0.193},{"p":4,"s":"b","t":10,"v":0.209},{"p":4,"s":"b","t":15,"v":0.218},{"p":4,"s":"b","t":20,"v":0.22},{"p":4,"s":"b","t":30,"v":0.22},{"p":4,"s":"b","t":31,"v":0.199},{"p":4,"s":"b","t":33,"v":0.163},{"p":4,"s":"b","t":36,"v":0.121},{"p":4,"s":"b","t":40,"v":0.081},{"p":4,"s":"b","t":45,"v":0.048},{"p":4,"s":"b","t":50,"v":0.028},{"p":4,"s":"b","t":60,"v":0.008},{"p":4,"s":"b","t":75,"v":-0.002},{"p":4,"s":"b","t":90,"v":-0.006},{"p":4,"s":"b","t":110,"v":-0.012},{"p":4,"s":"b","t":128,"v":-0.018},
{"p":4,"s":"c","t":0,"v":0},{"p":4,"s":"c","t":1,"v":0.021},{"p":4,"s":"c","t":2,"v":0.039},{"p":4,"s":"c","t":4,"v":0.07},{"p":4,"s":"c","t":7,"v":0.105},{"p":4,"s":"c","t":10,"v":0.129},{"p":4,"s":"c","t":15,"v":0.154},{"p":4,"s":"c","t":20,"v":0.168},{"p":4,"s":"c","t":30,"v":0.18},{"p":4,"s":"c","t":31,"v":0.163},{"p":4,"s":"c","t":33,"v":0.133},{"p":4,"s":"c","t":36,"v":0.099},{"p":4,"s":"c","t":40,"v":0.066},{"p":4,"s":"c","t":45,"v":0.039},{"p":4,"s":"c","t":50,"v":0.022},{"p":4,"s":"c","t":60,"v":0.006},{"p":4,"s":"c","t":75,"v":-0.003},{"p":4,"s":"c","t":90,"v":-0.008},{"p":4,"s":"c","t":110,"v":-0.016},{"p":4,"s":"c","t":128,"v":-0.025},
{"p":4,"s":"d","t":0,"v":0},{"p":4,"s":"d","t":1,"v":0.018},{"p":4,"s":"d","t":2,"v":0.034},{"p":4,"s":"d","t":4,"v":0.062},{"p":4,"s":"d","t":7,"v":0.094},{"p":4,"s":"d","t":10,"v":0.117},{"p":4,"s":"d","t":15,"v":0.141},{"p":4,"s":"d","t":20,"v":0.156},{"p":4,"s":"d","t":30,"v":0.169},{"p":4,"s":"d","t":31,"v":0.153},{"p":4,"s":"d","t":33,"v":0.125},{"p":4,"s":"d","t":36,"v":0.093},{"p":4,"s":"d","t":40,"v":0.062},{"p":4,"s":"d","t":45,"v":0.037},{"p":4,"s":"d","t":50,"v":0.021},{"p":4,"s":"d","t":60,"v":0.005},{"p":4,"s":"d","t":75,"v":-0.002},{"p":4,"s":"d","t":90,"v":-0.005},{"p":4,"s":"d","t":110,"v":-0.008},{"p":4,"s":"d","t":128,"v":-0.012},
{"p":4,"s":"e","t":0,"v":0},{"p":4,"s":"e","t":1,"v":0.009},{"p":4,"s":"e","t":2,"v":0.018},{"p":4,"s":"e","t":4,"v":0.033},{"p":4,"s":"e","t":7,"v":0.051},{"p":4,"s":"e","t":10,"v":0.066},{"p":4,"s":"e","t":15,"v":0.084},{"p":4,"s":"e","t":20,"v":0.096},{"p":4,"s":"e","t":30,"v":0.109},{"p":4,"s":"e","t":31,"v":0.099},{"p":4,"s":"e","t":33,"v":0.081},{"p":4,"s":"e","t":36,"v":0.06},{"p":4,"s":"e","t":40,"v":0.04},{"p":4,"s":"e","t":45,"v":0.024},{"p":4,"s":"e","t":50,"v":0.013},{"p":4,"s":"e","t":60,"v":0.002},{"p":4,"s":"e","t":75,"v":-0.004},{"p":4,"s":"e","t":90,"v":-0.01},{"p":4,"s":"e","t":110,"v":-0.02},{"p":4,"s":"e","t":128,"v":-0.03},
{"p":4,"s":"f","t":0,"v":0},{"p":4,"s":"f","t":1,"v":0.009},{"p":4,"s":"f","t":2,"v":0.017},{"p":4,"s":"f","t":4,"v":0.032},{"p":4,"s":"f","t":7,"v":0.049},{"p":4,"s":"f","t":10,"v":0.063},{"p":4,"s":"f","t":15,"v":0.08},{"p":4,"s":"f","t":20,"v":0.092},{"p":4,"s":"f","t":30,"v":0.105},{"p":4,"s":"f","t":31,"v":0.095},{"p":4,"s":"f","t":33,"v":0.078},{"p":4,"s":"f","t":36,"v":0.058},{"p":4,"s":"f","t":40,"v":0.039},{"p":4,"s":"f","t":45,"v":0.023},{"p":4,"s":"f","t":50,"v":0.012},{"p":4,"s":"f","t":60,"v":0.002},{"p":4,"s":"f","t":75,"v":-0.002},{"p":4,"s":"f","t":90,"v":-0.005},{"p":4,"s":"f","t":110,"v":-0.007},{"p":4,"s":"f","t":128,"v":-0.01},
{"p":4,"s":"g","t":0,"v":0},{"p":4,"s":"g","t":1,"v":0.004},{"p":4,"s":"g","t":2,"v":0.007},{"p":4,"s":"g","t":4,"v":0.014},{"p":4,"s":"g","t":7,"v":0.023},{"p":4,"s":"g","t":10,"v":0.03},{"p":4,"s":"g","t":15,"v":0.039},{"p":4,"s":"g","t":20,"v":0.046},{"p":4,"s":"g","t":30,"v":0.055},{"p":4,"s":"g","t":31,"v":0.05},{"p":4,"s":"g","t":33,"v":0.041},{"p":4,"s":"g","t":36,"v":0.03},{"p":4,"s":"g","t":40,"v":0.02},{"p":4,"s":"g","t":45,"v":0.012},{"p":4,"s":"g","t":50,"v":0.006},{"p":4,"s":"g","t":60,"v":0},{"p":4,"s":"g","t":75,"v":-0.003},{"p":4,"s":"g","t":90,"v":-0.006},{"p":4,"s":"g","t":110,"v":-0.01},{"p":4,"s":"g","t":128,"v":-0.014},
{"p":4,"s":"h","t":0,"v":0},{"p":4,"s":"h","t":1,"v":0.003},{"p":4,"s":"h","t":2,"v":0.006},{"p":4,"s":"h","t":4,"v":0.012},{"p":4,"s":"h","t":7,"v":0.019},{"p":4,"s":"h","t":10,"v":0.025},{"p":4,"s":"h","t":15,"v":0.033},{"p":4,"s":"h","t":20,"v":0.039},{"p":4,"s":"h","t":30,"v":0.047},{"p":4,"s":"h","t":31,"v":0.043},{"p":4,"s":"h","t":33,"v":0.035},{"p":4,"s":"h","t":36,"v":0.026},{"p":4,"s":"h","t":40,"v":0.017},{"p":4,"s":"h","t":45,"v":0.01},{"p":4,"s":"h","t":50,"v":0.005},{"p":4,"s":"h","t":60,"v":-0.001},{"p":4,"s":"h","t":75,"v":-0.004},{"p":4,"s":"h","t":90,"v":-0.008},{"p":4,"s":"h","t":110,"v":-0.015},{"p":4,"s":"h","t":128,"v":-0.022}
]
},
"spacing":18,
"hconcat":[
{"spacing":4,
 "vconcat":[
 {"width":301,"height":144,"view":{"stroke":"#555","strokeWidth":1.2},
  "title":{"text":"A","anchor":"start","frame":"bounds","fontSize":18,"fontWeight":"bold","color":"#000","offset":-8,"dx":-12},
  "data":{"name":"kon"},
  "encoding":{"x":{"field":"variant","type":"nominal","title":null,"scale":{"domain":["wt","K225A","K226A","R227A","K225A K226A","K225A R227A","K226A R227A","K225A K226A R227A","K230A","K231A","K232A","K230A K231A","K230A K232A","K231A K232A","K230A K231A K232A","K225A K226A R227A K230A K231A K232A"],"paddingInner":0.24,"paddingOuter":0.2},
   "axis":{"labelExpr":"split(datum.label,' ')","labelAngle":0,"labelFontSize":4.2,"labelLineHeight":5.2,"labelPadding":2,"labelBaseline":"top","tickSize":2,"domain":false,"labelColor":"#333","tickColor":"#666"}}},
  "layer":[
   {"mark":{"type":"rule","color":"#666","strokeWidth":0.9},"encoding":{"y":{"field":"lo","type":"quantitative","title":"kon (nM⁻¹s⁻¹)","scale":{"domain":[0.165,0.986],"nice":false,"zero":false},"axis":{"values":[0.2,0.4,0.6,0.8],"format":".1f","labelFontSize":5,"tickSize":2,"domain":false,"grid":false,"labelColor":"#333","tickColor":"#666","titleFontSize":10,"titlePadding":7,"titleColor":"#222"}},"y2":{"field":"hi"}}},
   {"mark":{"type":"bar","fill":"white","stroke":"#666","strokeWidth":0.9},"encoding":{"y":{"field":"q1","type":"quantitative","title":"kon (nM⁻¹s⁻¹)"},"y2":{"field":"q3"}}},
   {"mark":{"type":"tick","color":"#222","thickness":1.4,"size":14},"encoding":{"y":{"field":"med","type":"quantitative","title":"kon (nM⁻¹s⁻¹)"}}},
   {"data":{"name":"kon_out"},"mark":{"type":"circle","color":"#111","size":6,"opacity":1},"encoding":{"y":{"field":"v","type":"quantitative","title":"kon (nM⁻¹s⁻¹)"}}},
   {"transform":[{"filter":"datum.sig"}],"mark":{"type":"text","fontSize":8,"color":"#555","baseline":"alphabetic"},"encoding":{"y":{"datum":0.886,"type":"quantitative","title":"kon (nM⁻¹s⁻¹)"},"text":{"field":"sig"}}}
  ]},
 {"width":301,"height":144,"view":{"stroke":"#555","strokeWidth":1.2},
  "data":{"name":"koff"},
  "encoding":{"x":{"field":"variant","type":"nominal","title":null,"scale":{"domain":["wt","K225A","K226A","R227A","K225A K226A","K225A R227A","K226A R227A","K225A K226A R227A","K230A","K231A","K232A","K230A K231A","K230A K232A","K231A K232A","K230A K231A K232A","K225A K226A R227A K230A K231A K232A"],"paddingInner":0.24,"paddingOuter":0.2},
   "axis":{"labelExpr":"split(datum.label,' ')","labelAngle":0,"labelFontSize":4.2,"labelLineHeight":5.2,"labelPadding":2,"labelBaseline":"top","tickSize":2,"domain":false,"labelColor":"#333","tickColor":"#666"}}},
  "layer":[
   {"mark":{"type":"rule","color":"#666","strokeWidth":0.9},"encoding":{"y":{"field":"lo","type":"quantitative","title":"koff (s⁻¹)","scale":{"domain":[0.0166,0.152],"nice":false,"zero":false},"axis":{"values":[0.05,0.1,0.15],"format":".2f","labelFontSize":5,"tickSize":2,"domain":false,"grid":false,"labelColor":"#333","tickColor":"#666","titleFontSize":10,"titlePadding":7,"titleColor":"#222"}},"y2":{"field":"hi"}}},
   {"mark":{"type":"bar","fill":"white","stroke":"#666","strokeWidth":0.9},"encoding":{"y":{"field":"q1","type":"quantitative","title":"koff (s⁻¹)"},"y2":{"field":"q3"}}},
   {"mark":{"type":"tick","color":"#222","thickness":1.4,"size":14},"encoding":{"y":{"field":"med","type":"quantitative","title":"koff (s⁻¹)"}}},
   {"data":{"name":"koff_out"},"mark":{"type":"circle","color":"#111","size":6,"opacity":1},"encoding":{"y":{"field":"v","type":"quantitative","title":"koff (s⁻¹)"}}},
   {"transform":[{"filter":"datum.sig"}],"mark":{"type":"text","fontSize":8,"color":"#555","baseline":"alphabetic"},"encoding":{"y":{"datum":0.1294,"type":"quantitative","title":"koff (s⁻¹)"},"text":{"field":"sig"}}}
  ]},
 {"width":301,"height":143,"view":{"stroke":"#555","strokeWidth":1.2},
  "data":{"name":"kd"},
  "encoding":{"x":{"field":"variant","type":"nominal","title":"WASP variant","scale":{"domain":["wt","K225A","K226A","R227A","K225A K226A","K225A R227A","K226A R227A","K225A K226A R227A","K230A","K231A","K232A","K230A K231A","K230A K232A","K231A K232A","K230A K231A K232A","K225A K226A R227A K230A K231A K232A"],"paddingInner":0.24,"paddingOuter":0.2},
   "axis":{"labelExpr":"split(datum.label,' ')","labelAngle":0,"labelFontSize":4.2,"labelLineHeight":5.2,"labelPadding":2,"labelBaseline":"top","tickSize":2,"domain":false,"labelColor":"#333","tickColor":"#666","titleFontSize":10,"titlePadding":3,"titleColor":"#222"}}},
  "layer":[
   {"mark":{"type":"rule","color":"#666","strokeWidth":0.9},"encoding":{"y":{"field":"lo","type":"quantitative","title":"Kd (nM)","scale":{"domain":[-0.01,0.772],"nice":false,"zero":false},"axis":{"values":[0,0.2,0.4,0.6],"format":".1f","labelFontSize":5,"tickSize":2,"domain":false,"grid":false,"labelColor":"#333","tickColor":"#666","titleFontSize":10,"titlePadding":7,"titleColor":"#222"}},"y2":{"field":"hi"}}},
   {"mark":{"type":"bar","fill":"white","stroke":"#666","strokeWidth":0.9},"encoding":{"y":{"field":"q1","type":"quantitative","title":"Kd (nM)"},"y2":{"field":"q3"}}},
   {"mark":{"type":"tick","color":"#222","thickness":1.4,"size":14},"encoding":{"y":{"field":"med","type":"quantitative","title":"Kd (nM)"}}},
   {"data":{"name":"kd_out"},"mark":{"type":"circle","color":"#111","size":6,"opacity":1},"encoding":{"y":{"field":"v","type":"quantitative","title":"Kd (nM)"}}},
   {"transform":[{"filter":"datum.sig"}],"mark":{"type":"text","fontSize":8,"color":"#555","baseline":"alphabetic"},"encoding":{"y":{"datum":0.646,"type":"quantitative","title":"Kd (nM)"},"text":{"field":"sig"}}}
  ]}
 ]},
{"spacing":4,
 "vconcat":[
 {"width":307,"height":26,
  "title":{"text":"B","anchor":"start","frame":"group","fontSize":18,"fontWeight":"bold","color":"#000","offset":-8,"dx":-18},
  "data":{"values":[{}]},"mark":{"type":"text","opacity":0},"encoding":{"text":{"value":""}}},
 {"spacing":44,
 "vconcat":[
 {"width":307,"height":65,"view":{"stroke":"#c8c8c8","strokeWidth":0.6},
  "layer":[
   {"data":{"name":"sens"},"transform":[{"filter":"datum.p==1"}],"mark":{"type":"line","interpolate":"monotone","strokeWidth":0.7,"color":"#4a4a4a","clip":true},
    "encoding":{"x":{"field":"t","type":"quantitative","title":"Time (sec)","scale":{"domain":[0,128],"nice":false},"axis":{"values":[0,10,20,30,40,50,60,70,80,90,100,110,120],"tickCount":13,"labelOverlap":false,"labelFontSize":5,"tickSize":2,"domain":false,"grid":true,"gridColor":"#e2e2e2","gridWidth":0.6,"labelColor":"#333","tickColor":"#888","labelPadding":2,"titleFontSize":6,"titlePadding":6,"titleColor":"#333"}},
     "y":{"field":"v","type":"quantitative","title":"nm","scale":{"domain":[-0.02,0.31],"nice":false,"zero":false},"axis":{"values":[0,0.1,0.2,0.3],"format":".1f","labelFontSize":5,"tickSize":2,"domain":false,"grid":true,"gridColor":"#e2e2e2","gridWidth":0.6,"labelColor":"#333","tickColor":"#888","titleFontSize":6,"titlePadding":3,"titleColor":"#333"}},
     "detail":{"field":"s","type":"nominal"}}},
   {"data":{"values":[{}]},"mark":{"type":"rule","color":"#666","strokeWidth":0.9},"encoding":{"x":{"datum":30,"type":"quantitative","title":"Time (sec)"}}},
   {"data":{"name":"conc"},"transform":[{"filter":"datum.p==1"}],"mark":{"type":"text","align":"left","baseline":"middle","fontSize":6.5,"fontWeight":"bold","color":"#1a1a1a"},
    "encoding":{"x":{"field":"t","type":"quantitative","title":"Time (sec)"},"y":{"field":"v","type":"quantitative","title":"nm"},"text":{"field":"lab"}}},
   {"data":{"values":[{}]},"mark":{"type":"text","align":"right","baseline":"middle","fontSize":10.5,"color":"#333"},
    "encoding":{"x":{"datum":125,"type":"quantitative","title":"Time (sec)"},"y":{"datum":0.26,"type":"quantitative","title":"nm"},"text":{"value":"WASP wt"}}}
  ]},
 {"width":307,"height":61,"view":{"stroke":"#c8c8c8","strokeWidth":0.6},
  "layer":[
   {"data":{"name":"sens"},"transform":[{"filter":"datum.p==2"}],"mark":{"type":"line","interpolate":"monotone","strokeWidth":0.7,"color":"#4a4a4a","clip":true},
    "encoding":{"x":{"field":"t","type":"quantitative","title":"Time (sec)","scale":{"domain":[0,128],"nice":false},"axis":{"values":[0,10,20,30,40,50,60,70,80,90,100,110,120],"tickCount":13,"labelOverlap":false,"labelFontSize":5,"tickSize":2,"domain":false,"grid":true,"gridColor":"#e2e2e2","gridWidth":0.6,"labelColor":"#333","tickColor":"#888","labelPadding":2,"titleFontSize":6,"titlePadding":6,"titleColor":"#333"}},
     "y":{"field":"v","type":"quantitative","title":"nm","scale":{"domain":[-0.018,0.445],"nice":false,"zero":false},"axis":{"values":[0,0.2,0.4],"format":".1f","labelFontSize":5,"tickSize":2,"domain":false,"grid":true,"gridColor":"#e2e2e2","gridWidth":0.6,"labelColor":"#333","tickColor":"#888","titleFontSize":6,"titlePadding":3,"titleColor":"#333"}},
     "detail":{"field":"s","type":"nominal"}}},
   {"data":{"values":[{}]},"mark":{"type":"rule","color":"#666","strokeWidth":0.9},"encoding":{"x":{"datum":30,"type":"quantitative","title":"Time (sec)"}}},
   {"data":{"name":"conc"},"transform":[{"filter":"datum.p==2"}],"mark":{"type":"text","align":"left","baseline":"middle","fontSize":6.5,"fontWeight":"bold","color":"#1a1a1a"},
    "encoding":{"x":{"field":"t","type":"quantitative","title":"Time (sec)"},"y":{"field":"v","type":"quantitative","title":"nm"},"text":{"field":"lab"}}},
   {"data":{"values":[{}]},"mark":{"type":"text","align":"right","baseline":"middle","fontSize":10.5,"color":"#333"},
    "encoding":{"x":{"datum":125,"type":"quantitative","title":"Time (sec)"},"y":{"datum":0.377,"type":"quantitative","title":"nm"},"text":{"value":"WASP K231A K232A"}}}
  ]},
 {"width":307,"height":65,"view":{"stroke":"#c8c8c8","strokeWidth":0.6},
  "layer":[
   {"data":{"name":"sens"},"transform":[{"filter":"datum.p==3"}],"mark":{"type":"line","interpolate":"monotone","strokeWidth":0.7,"color":"#4a4a4a","clip":true},
    "encoding":{"x":{"field":"t","type":"quantitative","title":"Time (sec)","scale":{"domain":[0,128],"nice":false},"axis":{"values":[0,10,20,30,40,50,60,70,80,90,100,110,120],"tickCount":13,"labelOverlap":false,"labelFontSize":5,"tickSize":2,"domain":false,"grid":true,"gridColor":"#e2e2e2","gridWidth":0.6,"labelColor":"#333","tickColor":"#888","labelPadding":2,"titleFontSize":6,"titlePadding":6,"titleColor":"#333"}},
     "y":{"field":"v","type":"quantitative","title":"nm","scale":{"domain":[0.008,0.582],"nice":false,"zero":false},"axis":{"values":[0.2,0.4],"format":".1f","labelFontSize":5,"tickSize":2,"domain":false,"grid":true,"gridColor":"#e2e2e2","gridWidth":0.6,"labelColor":"#333","tickColor":"#888","titleFontSize":6,"titlePadding":3,"titleColor":"#333"}},
     "detail":{"field":"s","type":"nominal"}}},
   {"data":{"values":[{}]},"mark":{"type":"rule","color":"#666","strokeWidth":0.9},"encoding":{"x":{"datum":30,"type":"quantitative","title":"Time (sec)"}}},
   {"data":{"name":"conc"},"transform":[{"filter":"datum.p==3"}],"mark":{"type":"text","align":"left","baseline":"middle","fontSize":6.5,"fontWeight":"bold","color":"#1a1a1a"},
    "encoding":{"x":{"field":"t","type":"quantitative","title":"Time (sec)"},"y":{"field":"v","type":"quantitative","title":"nm"},"text":{"field":"lab"}}},
   {"data":{"values":[{}]},"mark":{"type":"text","align":"right","baseline":"middle","fontSize":10.5,"color":"#333"},
    "encoding":{"x":{"datum":125,"type":"quantitative","title":"Time (sec)"},"y":{"datum":0.499,"type":"quantitative","title":"nm"},"text":{"value":"WASP K225A K226A R227A"}}}
  ]},
 {"width":307,"height":64,"view":{"stroke":"#c8c8c8","strokeWidth":0.6},
  "layer":[
   {"data":{"name":"sens"},"transform":[{"filter":"datum.p==4"}],"mark":{"type":"line","interpolate":"monotone","strokeWidth":0.7,"color":"#4a4a4a","clip":true},
    "encoding":{"x":{"field":"t","type":"quantitative","title":"Time (sec)","scale":{"domain":[0,128],"nice":false},"axis":{"values":[0,10,20,30,40,50,60,70,80,90,100,110,120],"tickCount":13,"labelOverlap":false,"labelFontSize":5,"tickSize":2,"domain":false,"grid":true,"gridColor":"#e2e2e2","gridWidth":0.6,"labelColor":"#333","tickColor":"#888","labelPadding":2,"titleFontSize":6,"titlePadding":6,"titleColor":"#333"}},
     "y":{"field":"v","type":"quantitative","title":"nm","scale":{"domain":[-0.043,0.231],"nice":false,"zero":false},"axis":{"values":[0,0.1,0.2],"format":".1f","labelFontSize":5,"tickSize":2,"domain":false,"grid":true,"gridColor":"#e2e2e2","gridWidth":0.6,"labelColor":"#333","tickColor":"#888","titleFontSize":6,"titlePadding":3,"titleColor":"#333"}},
     "detail":{"field":"s","type":"nominal"}}},
   {"data":{"values":[{}]},"mark":{"type":"rule","color":"#666","strokeWidth":0.9},"encoding":{"x":{"datum":30,"type":"quantitative","title":"Time (sec)"}}},
   {"data":{"name":"conc"},"transform":[{"filter":"datum.p==4"}],"mark":{"type":"text","align":"left","baseline":"middle","fontSize":6.5,"fontWeight":"bold","color":"#1a1a1a"},
    "encoding":{"x":{"field":"t","type":"quantitative","title":"Time (sec)"},"y":{"field":"v","type":"quantitative","title":"nm"},"text":{"field":"lab"}}},
   {"data":{"values":[{}]},"mark":{"type":"text","align":"right","baseline":"middle","fontSize":10.5,"color":"#333","lineBreak":"\n","lineHeight":13},
    "encoding":{"x":{"datum":125,"type":"quantitative","title":"Time (sec)"},"y":{"datum":0.16,"type":"quantitative","title":"nm"},"text":{"value":"WASP K225A K226A R227A\nK230A K231A K232A"}}}
  ]}
 ]}
 ]}
]
}
